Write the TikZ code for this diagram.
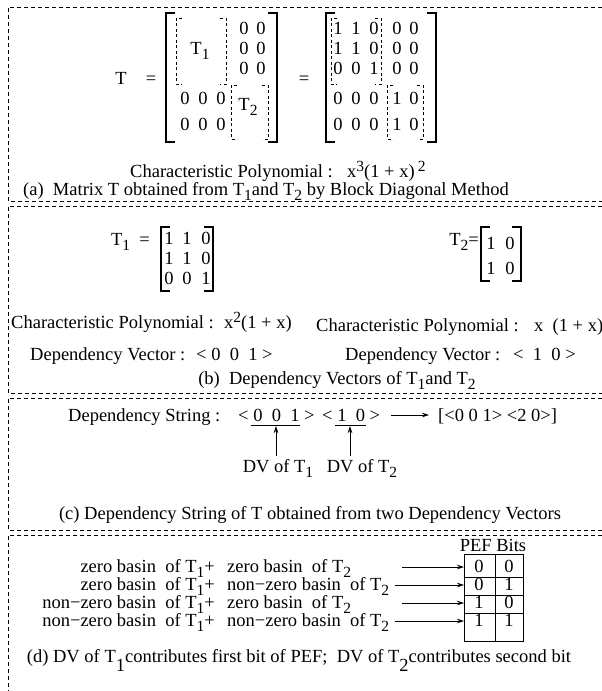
\documentclass[tikz,border=0pt]{standalone}
\usepackage{fontspec}
\setmainfont{Liberation Serif}
\usetikzlibrary{arrows.meta,positioning,calc}
\newcommand{\lowr}[1]{\raisebox{-0.6ex}{\fontsize{15.5}{15.5}\selectfont #1}}
\newcommand{\highr}[1]{\raisebox{0.7ex}{\fontsize{15.5}{15.5}\selectfont #1}}
\newcommand{\mbrack}[4]{%
  \draw[brk] ({#1+9},#2) -- (#1,#2) -- (#1,#4) -- ({#1+9},#4);
  \draw[brk] ({#3-9},#2) -- (#3,#2) -- (#3,#4) -- ({#3-9},#4);}
\newcommand{\blkbox}[4]{%
  \draw[blk] ({#1+6},#2) -- (#1,#2) -- (#1,#4) -- ({#1+6},#4);
  \draw[blk] ({#3-6},#2) -- (#3,#2) -- (#3,#4) -- ({#3-6},#4);}
\tikzset{
  txt/.style={inner sep=0pt, anchor=base west},
  ent/.style={inner sep=0pt, anchor=base},
  capt/.style={inner sep=0pt, anchor=base},
  frm/.style={dash pattern=on 4pt off 3pt, line width=0.7pt},
  brk/.style={line width=1.1pt},
  blk/.style={dash pattern=on 3pt off 2.5pt, line width=0.6pt},
  arr/.style={-{Stealth[length=7pt,width=4.5pt]}, line width=0.7pt},
  cell/.style={draw, line width=0.7pt, minimum width=59pt, minimum height=87pt, inner sep=0pt},
}
\begin{document}
\begin{tikzpicture}[x=1pt,y=-1pt,font=\fontsize{18.5}{20}\selectfont]
\useasboundingbox (0,0) rectangle (602,691);
\draw[frm] (602,7) -- (8,7) -- (8,201) -- (602,201);
\draw[frm] (602,206) -- (8,206) -- (8,393) -- (602,393);
\draw[frm] (602,398) -- (8,398) -- (8,530) -- (602,530);
\draw[frm] (602,535) -- (8,535) -- (8,691);

\node[ent] (tT) at (121,84) {T};
\node[ent] (teq1) at (151,84) {=};
\mbrack{166}{13}{277}{142}
\blkbox{176}{18}{226}{84}
\blkbox{231}{85}{268}{139}
\node[ent] (tT1) at (200,54) {T\lowr{1}};
\node[ent] (tT2) at (248,110) {T\lowr{2}};
\foreach \r/\y in {1/34,2/54,3/74} {
  \node[ent] (ma-\r-4) at (244,\y) {0};
  \node[ent] (ma-\r-5) at (261,\y) {0};
}
\foreach \r/\y in {4/104,5/130} {
  \foreach \c/\x in {1/185,2/203,3/221}
    \node[ent] (ma-\r-\c) at (\x,\y) {0};
}
\node[ent] (teq2) at (304,84) {=};
\mbrack{326}{13}{436}{142}
\blkbox{331}{18}{381}{84}
\blkbox{387}{85}{423}{139}
\foreach \r/\y/\a/\b/\c/\d/\e in {1/34/1/1/0/0/0,2/54/1/1/0/0/0,3/74/0/0/1/0/0,4/104/0/0/0/1/0,5/130/0/0/0/1/0} {
  \node[ent] (mb-\r-1) at (338,\y) {\a};
  \node[ent] (mb-\r-2) at (356,\y) {\b};
  \node[ent] (mb-\r-3) at (374,\y) {\c};
  \node[ent] (mb-\r-4) at (397,\y) {\d};
  \node[ent] (mb-\r-5) at (414,\y) {\e};
}
\node[txt] (cpa) at (130,177) {Characteristic Polynomial :};
\node[txt] (cpax) at (347,177) {x\highr{3}(1 + x)\,\highr{2}};
\node[capt] (capa) at (266,195) {(a)\ \ Matrix T obtained from T\lowr{1}and T\lowr{2} by Block Diagonal Method};

\node[txt, anchor=base east] (bT1) at (150,245) {T\lowr{1} \ =};
\mbrack{161}{227}{213}{291}
\foreach \r/\y/\a/\b/\c in {1/244/1/1/0,2/264/1/1/0,3/284/0/0/1} {
  \node[ent] (m1-\r-1) at (169,\y) {\a};
  \node[ent] (m1-\r-2) at (187,\y) {\b};
  \node[ent] (m1-\r-3) at (206,\y) {\c};
}
\node[txt, anchor=base east] (bT2) at (479,245) {T\lowr{2}=};
\mbrack{481}{227}{521}{281}
\foreach \r/\y in {1/249,2/274} {
  \node[ent] (m2-\r-1) at (491,\y) {1};
  \node[ent] (m2-\r-2) at (510,\y) {0};
}
\node[txt] (cpb1) at (11,328) {Characteristic Polynomial :};
\node[txt] (cpb1x) at (224,328) {x\highr{2}(1 + x)};
\node[txt] (cpb2) at (316,331) {Characteristic Polynomial :};
\node[txt] (cpb2x) at (534,331) {x\ \ (1 + x)};
\node[txt] (dvb1) at (30,360) {Dependency Vector :};
\node[txt] (dvb1v) at (196,360) {<\ 0\ \ 0\ \ 1\ >};
\node[txt] (dvb2) at (345,360) {Dependency Vector :};
\node[txt] (dvb2v) at (513,360) {<\ \ 1\ \ 0\ >};
\node[capt] (capb) at (337,384) {(b)\ \ Dependency Vectors of T\lowr{1}and T\lowr{2}};

\node[txt] (dsl) at (68,421) {Dependency String :};
\node[txt] (ds1) at (238,421) {<\ 0\ \ 0\ \ 1\ >};
\node[txt] (ds2) at (322,421) {<\ 1\ \ 0\ >};
\node[txt] (dsr) at (438,421) {[<0 0 1> <2 0>]};
\draw[arr, shorten <=11pt, shorten >=9pt] (ds2.east |- 0,415) -- (dsr.west |- 0,415);
\draw[line width=0.7pt] (251,425) -- (300,425);
\draw[line width=0.7pt] (335,425) -- (366,425);
\coordinate (u1) at (276,426);
\coordinate (u2) at (350,426);
\node[capt] (dvt1) at (278,472) {DV of T\lowr{1}};
\node[capt] (dvt2) at (362,472) {DV of T\lowr{2}};
\draw[arr] (u1 |- 0,456) -- (u1);
\draw[arr] (u2 |- 0,456) -- (u2);
\node[capt] (capc) at (310,519) {(c) Dependency String of T obtained from two Dependency Vectors};

\node[capt] (pef) at (493,551) {PEF Bits};
\node[cell, anchor=north west] (tbl) at (464,554) {};
\draw[line width=0.7pt] (495,554) -- (495,641);
\foreach \r/\y/\a/\b/\p/\q in {1/572/zero/zero/0/0,2/590/zero/non−zero/0/1,3/608/non−zero/zero/1/0,4/626/non−zero/non−zero/1/1} {
  \node[txt, anchor=base east] (l\r) at (215,\y) {\a\ basin\ \ of T\lowr{1}+};
  \node[txt] (r\r) at (227,\y) {\b\ basin\ \ of T\lowr{2}};
  \node[ent] (p\r) at (479,\y) {\p};
  \node[ent] (q\r) at (509,\y) {\q};
}
\foreach \y in {577,595,613}
  \draw[line width=0.7pt] (tbl.west |- 0,\y) -- (tbl.east |- 0,\y);
\coordinate (s1) at (402,567);
\coordinate (s3) at (402,603);
\draw[arr] (s1) -- (s1 -| tbl.west);
\draw[arr] (s3) -- (s3 -| tbl.west);
\draw[arr] ([xshift=6pt]r2.east |- 0,585) -- (tbl.west |- 0,585);
\draw[arr] ([xshift=6pt]r4.east |- 0,621) -- (tbl.west |- 0,621);
\node[capt] (capd) at (299,662) {(d) DV of T\raisebox{-1.1ex}{1}contributes first bit of PEF;\ \ DV of T\raisebox{-1.1ex}{2}contributes second bit};
\end{tikzpicture}
\end{document}
